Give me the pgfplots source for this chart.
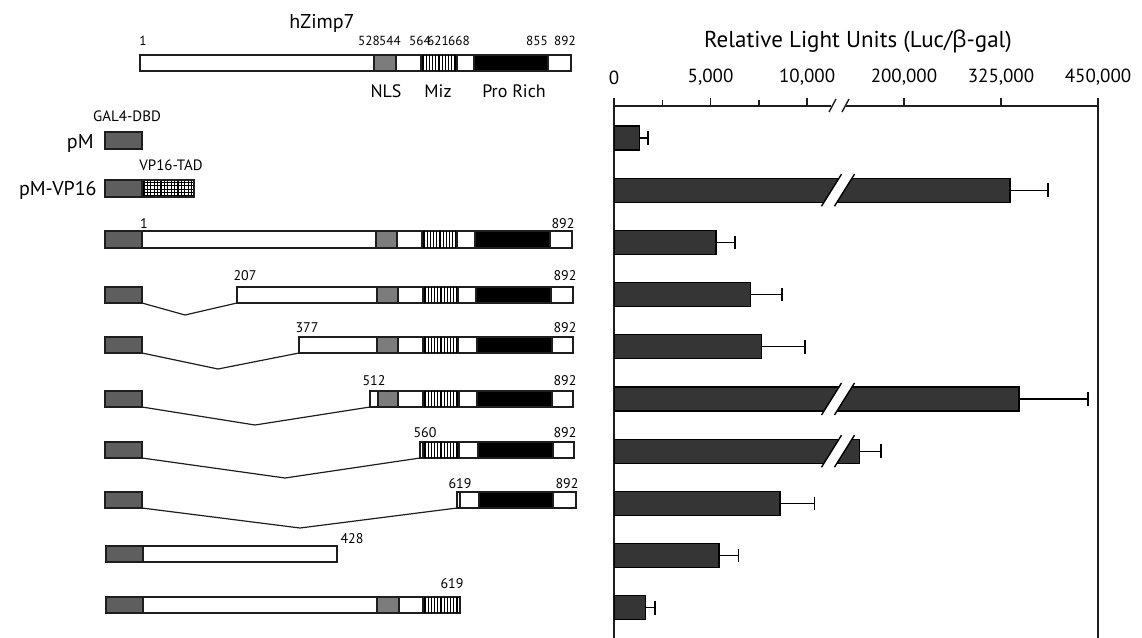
\documentclass[border=0pt]{standalone}
\usepackage{fontspec}
\setmainfont{PT Sans}
\newfontfamily\grk{Open Sans}
\usepackage{pgfplots}
\usepackage{pgfplotstable}
\pgfplotsset{compat=1.18}
\definecolor{galgray}{HTML}{5E5E5E}
\definecolor{nlsgray}{HTML}{7C7C7C}
\definecolor{barfill}{HTML}{353535}
\definecolor{edge}{HTML}{1E1E1E}

% Relative light units (Luc/beta-gal), mean and upper error
\pgfplotstableread{
row val err
0 1300 460
1 336600 49000
2 5280 990
3 7050 1640
4 7620 2280
5 348200 89300
6 142400 28000
7 8600 1780
8 5440 1000
9 1640 480
}\rludata

\newcommand{\dom}[5]{\draw[edge, line width=0.75pt, fill=#5] (#1,#2) rectangle (#3,#4);}
\newcommand{\miz}[4]{%
  \draw[edge, line width=0.75pt, fill=white] (#1,#2) rectangle (#3,#4);
  \pgfmathtruncatemacro\nstr{(#3-#1-3)/3.2}%
  \foreach \k in {0,...,\nstr}{\draw[black, line width=0.55pt] ({#1+2+3.2*\k},#2) -- ({#1+2+3.2*\k},#4);}
}
\newcommand{\numlab}[3]{\node[anchor=base, inner sep=0pt, font=\fontsize{7}{8}\selectfont] at (#1,#2) {#3};}
\newcommand{\toplab}[2]{\node[anchor=base, inner sep=0pt, font=\fontsize{6.6}{8}\selectfont] at (#1,45) {#2};}

\pgfplotsset{rlu/.style={
  scale only axis, height=266pt,
  ymin=-0.613, ymax=9.579, y dir=reverse,
  ytick=\empty, scaled x ticks=false,
  axis x line=top,
  axis line style={line width=0.75pt, edge},
  tick align=outside, major tick length=4pt, minor tick length=3pt,
  every tick/.style={line width=0.75pt, edge},
  every x tick label/.append style={font=\fontsize{9.5}{10}\selectfont, yshift=3pt},
  xbar, bar width=12pt,
}, noarrows/.style={
  every outer x axis line/.append style={-},
  every inner x axis line/.append style={-},
  every outer y axis line/.append style={-},
  every inner y axis line/.append style={-},
}, rlubars/.style={xbar, fill=barfill, draw=black, line width=0.6pt,
  error bars/x dir=plus, error bars/x explicit,
  error bars/error bar style={line width=0.65pt, black},
  error bars/error mark options={black, rotate=90, mark size=3.4pt, line width=0.85pt}}
}

\begin{document}
\begin{tikzpicture}[x=0.5pt, y=-0.5pt]
\path[use as bounding box] (0,0) rectangle (1142,638);
\coordinate (pA) at (614,106);
\coordinate (pB) at (838,106);

\begin{axis}[rlu, at={(pA)}, anchor=north west, width=112pt,
  axis y line=left, noarrows,
  xmin=0, xmax=11600,
  xtick={0,5000,10000}, minor xtick={2500,7500},
  xticklabels={0,{5,000},{10,000}}]
\addplot[rlubars] table[x=val, y=row, x error=err] {\rludata};
\end{axis}

\begin{axis}[rlu, at={(pB)}, anchor=north west, width=130pt,
  axis y line=right, noarrows,
  xmin=115000, xmax=450000,
  xtick={200000,325000,450000},
  xticklabels={{200,000},{325,000},{450,000}}]
\addplot[restrict x to domain=115000:600000, rlubars] table[x=val, y=row, x error=err] {\rludata};
\end{axis}

% axis break
\fill[white] (831,101) rectangle (846,111);
\draw[edge, line width=0.7pt] (829,112) -- (836,99);
\draw[edge, line width=0.7pt] (842,112) -- (849,99);
% bar breaks
\foreach \yc in {190.2,399,451.2}{
  \fill[white] (821.5,\yc+16) -- (834.5,\yc+16) -- (854.5,\yc-16) -- (841.5,\yc-16) -- cycle;
  \draw[black, line width=0.7pt] (821.5,\yc+16) -- (841.5,\yc-16);
  \draw[black, line width=0.7pt] (834.5,\yc+16) -- (854.5,\yc-16);
}

\node[anchor=base, inner sep=0pt, font=\fontsize{11.5}{13}\selectfont] at (858,47) {Relative Light Units (Luc/{\grk β}-gal)};

% ---- hZimp7 scheme ----
\node[anchor=base, inner sep=0pt, font=\fontsize{10}{12}\selectfont] at (322,28) {hZimp7};
\toplab{143}{1}\toplab{369}{528}\toplab{390}{544}\toplab{420}{564}
\toplab{438}{621}\toplab{459}{668}\toplab{537}{855}\toplab{565}{892}
\dom{140}{55}{374}{71}{white}\dom{374}{55}{396}{71}{nlsgray}\dom{396}{55}{421}{71}{white}
\miz{421}{55}{457}{71}\dom{457}{55}{474}{71}{white}\dom{474}{55}{548}{71}{black}\dom{548}{55}{571}{71}{white}
\node[anchor=base, inner sep=0pt, font=\fontsize{9}{10}\selectfont] at (386,97) {NLS};
\node[anchor=base, inner sep=0pt, font=\fontsize{9}{10}\selectfont] at (438,97) {Miz};
\node[anchor=base, inner sep=0pt, font=\fontsize{9}{10}\selectfont] at (514,97) {Pro Rich};

% pM
\node[anchor=base, inner sep=0pt, font=\fontsize{7.5}{8}\selectfont] at (127,121) {GAL4-DBD};
\node[anchor=base east, inner sep=0pt, font=\fontsize{10}{12}\selectfont] at (94,148) {pM};
\dom{105}{132}{142}{149}{galgray}
% pM-VP16
\node[anchor=base, inner sep=0pt, font=\fontsize{7.5}{8}\selectfont] at (171,170) {VP16-TAD};
\node[anchor=base east, inner sep=0pt, font=\fontsize{10}{12}\selectfont] at (97,195) {pM-VP16};
\draw[edge, line width=0.75pt, fill=white] (142,180) rectangle (194,197);
\foreach \k in {0,...,14}{\draw[black, line width=0.6pt] ({144+3.4*\k},180) -- ({144+3.4*\k},197);}
\foreach \k in {0,...,4}{\draw[black, line width=0.6pt] (142,{182.5+3.3*\k}) -- (194,{182.5+3.3*\k});}
\draw[edge, line width=0.75pt] (142,180) rectangle (194,197);
\dom{105}{180}{142}{197}{galgray}
% 1-892
\numlab{144}{228}{1}\numlab{563}{228}{892}
\dom{105}{231}{142}{248}{galgray}\dom{142}{231}{376}{248}{white}\dom{376}{231}{397}{248}{nlsgray}
\dom{397}{231}{422}{248}{white}\miz{422}{231}{457}{248}\dom{457}{231}{475}{248}{white}
\dom{475}{231}{550}{248}{black}\dom{550}{231}{572}{248}{white}
% 207-892
\numlab{245}{280}{207}\numlab{565}{280}{892}
\dom{105}{287}{142}{303}{galgray}
\draw[edge, line width=0.6pt] (142,303) -- (185,315) -- (237,303);
\dom{237}{287}{377}{303}{white}\dom{377}{287}{398}{303}{nlsgray}\dom{398}{287}{423}{303}{white}
\miz{423}{287}{458}{303}\dom{458}{287}{476}{303}{white}\dom{476}{287}{551}{303}{black}\dom{551}{287}{573}{303}{white}
% 377-892
\numlab{307}{332}{377}\numlab{565}{332}{892}
\dom{105}{337}{142}{353}{galgray}
\draw[edge, line width=0.6pt] (142,353) -- (218,369) -- (299,353);
\dom{299}{337}{377}{353}{white}\dom{377}{337}{398}{353}{nlsgray}\dom{398}{337}{423}{353}{white}
\miz{423}{337}{458}{353}\dom{458}{337}{477}{353}{white}\dom{477}{337}{552}{353}{black}\dom{552}{337}{573}{353}{white}
% 512-892
\numlab{374}{385}{512}\numlab{565}{385}{892}
\dom{105}{391}{142}{407}{galgray}
\draw[edge, line width=0.6pt] (142,407) -- (255,425) -- (370,407);
\dom{370}{391}{378}{407}{white}\dom{378}{391}{398}{407}{nlsgray}\dom{398}{391}{423}{407}{white}
\miz{423}{391}{459}{407}\dom{459}{391}{477}{407}{white}\dom{477}{391}{552}{407}{black}\dom{552}{391}{573}{407}{white}
% 560-892
\numlab{425}{437}{560}\numlab{565}{437}{892}
\dom{105}{442}{142}{458}{galgray}
\draw[edge, line width=0.6pt] (142,458) -- (285,478) -- (420,458);
\dom{420}{442}{423}{458}{white}\miz{423}{442}{459}{458}\dom{459}{442}{478}{458}{white}
\dom{478}{442}{553}{458}{black}\dom{553}{442}{574}{458}{white}
% 619-892
\numlab{460}{488}{619}\numlab{567}{488}{892}
\dom{105}{492}{142}{508}{galgray}
\draw[edge, line width=0.6pt] (142,508) -- (300,528) -- (457,508);
\dom{457}{492}{460}{508}{white}\dom{460}{492}{479}{508}{white}
\dom{479}{492}{553}{508}{black}\dom{553}{492}{576}{508}{white}
% 1-428
\numlab{352}{543}{428}
\dom{106}{546}{143}{562}{galgray}\dom{143}{546}{337}{562}{white}
% 1-619
\numlab{452}{588}{619}
\dom{106}{597}{143}{613}{galgray}\dom{143}{597}{377}{613}{white}\dom{377}{597}{399}{613}{nlsgray}
\dom{399}{597}{423}{613}{white}\miz{423}{597}{460}{613}
\end{tikzpicture}
\end{document}
